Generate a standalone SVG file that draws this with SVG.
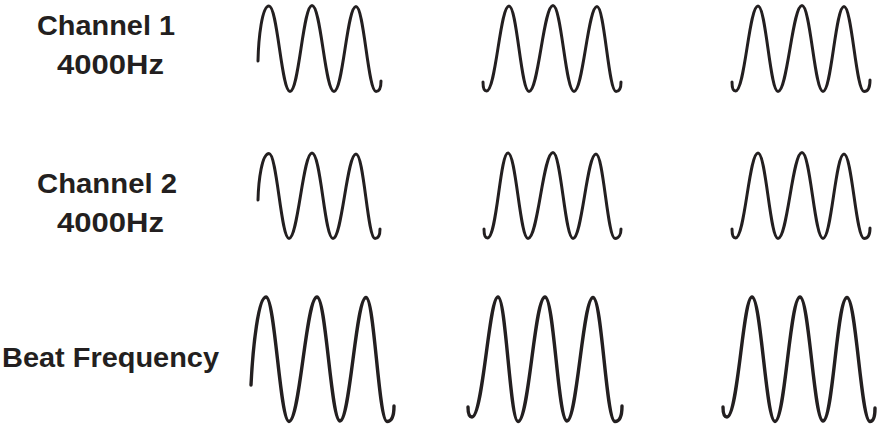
<svg xmlns="http://www.w3.org/2000/svg" width="877" height="430" viewBox="0 0 877 430">
<style>
.lbl{font-family:"Liberation Sans",Arial,sans-serif;font-weight:bold;font-size:28px;fill:#231f20;text-anchor:middle}
.w{fill:none;stroke:#231f20;stroke-width:3;stroke-linecap:round;stroke-linejoin:round}
.wb{stroke-width:3.4}
</style>
<rect width="877" height="430" fill="#ffffff"/>
<g id="label-ch1">
<text class="lbl" x="106" y="35" textLength="138" lengthAdjust="spacingAndGlyphs">Channel 1</text>
<text class="lbl" x="110.5" y="74" textLength="107" lengthAdjust="spacingAndGlyphs">4000Hz</text>
</g>
<g id="label-ch2">
<text class="lbl" x="107" y="193" textLength="140" lengthAdjust="spacingAndGlyphs">Channel 2</text>
<text class="lbl" x="110.5" y="232" textLength="107" lengthAdjust="spacingAndGlyphs">4000Hz</text>
</g>
<g id="label-beat">
<text class="lbl" x="110.5" y="367" textLength="217" lengthAdjust="spacingAndGlyphs">Beat Frequency</text>
</g>
<g id="row-ch1">
<path class="w" d="M258,61 C258.5,38 262,6 269,6 C277.5,6 281.5,91.5 290,91.5 C299,91.5 303,5.5 312,5.5 C321,5.5 325,91.5 334,91.5 C343,91.5 347,6.5 356,6.5 C364,6.5 368,91.5 376,91.5 C380,91.5 381,87 381,81"/>
<path class="w" d="M483,82 C483,88 484,91 486.5,91 C496,91 500,6 509,6 C517,6 521,91.5 529,91.5 C538.5,91.5 543.5,5.5 553,5.5 C561.5,5.5 565.5,91.5 574,91.5 C583,91.5 588,6.5 597,6.5 C604.5,6.5 608.5,91.5 616,91.5 C620,91.5 621,88 621,82"/>
<path class="w" d="M732,82 C732,88 733,91 735.5,91 C745,91 749,6 758,6 C766,6 770,91.5 778,91.5 C787.5,91.5 792.5,5.5 802,5.5 C810.5,5.5 814.5,91.5 823,91.5 C831.5,91.5 835.5,6.5 844,6.5 C852,6.5 856,91.5 864,91.5 C868,91.5 870,87 870,80"/>
</g>
<g id="row-ch2">
<path class="w" d="M258,200 C258.5,180 262,153.5 269,153.5 C277,153.5 281,238.5 289,238.5 C298,238.5 303,153 312,153 C321,153 324.5,238.5 333,238.5 C342,238.5 347,154 356,154 C364,154 367.5,238.5 375,238.5 C379,238.5 380,234 380,229"/>
<path class="w" d="M484,229 C484,235 485,238 487.5,238 C497,238 500,153 508,153 C516,153 520,238.5 528,238.5 C538,238.5 543,152.5 553,152.5 C561,152.5 565,238.5 573,238.5 C582,238.5 587,154 596,154 C603.5,154 607.5,238.5 615,238.5 C619,238.5 621,234 621,229"/>
<path class="w" d="M732,229 C732,235 733,238 735.5,238 C745,238 749,153 758,153 C766,153 770,238.5 778,238.5 C787.5,238.5 792.5,152.5 802,152.5 C810.5,152.5 814.5,238.5 823,238.5 C831.5,238.5 835.5,154 844,154 C852,154 856,238.5 864,238.5 C868,238.5 870,234 870,228"/>
</g>
<g id="row-beat">
<path class="w wb" d="M251,385 C253,345 258.5,297 266,297 C275,297 280,421.5 289,421.5 C300,421.5 306,297 317,297 C326,297 331,421 340,421 C350,421 356,297.5 366,297.5 C374.5,297.5 378.5,421.5 387,421.5 C392,421.5 394,415 394,406"/>
<path class="w wb" d="M468,407 C468,414 469.5,417 472,417 C483,417 489,297 498,297 C506,297 510,421.5 518,421.5 C529,421.5 534.5,297 545,297 C554,297 558,421 567,421 C577,421 583,297.5 593,297.5 C602,297.5 606,421.5 615,421.5 C620,421.5 622,415 622,406"/>
<path class="w wb" d="M723,407 C723,414 724.5,417 727,417 C738,417 743,297 752,297 C761,297 766,421.5 775,421.5 C785,421.5 790,297 800,297 C809,297 814,421 823,421 C833,421 837,297.5 847,297.5 C856,297.5 861,421.5 870,421.5 C874,421.5 875,416 875,408"/>
</g>
</svg>
